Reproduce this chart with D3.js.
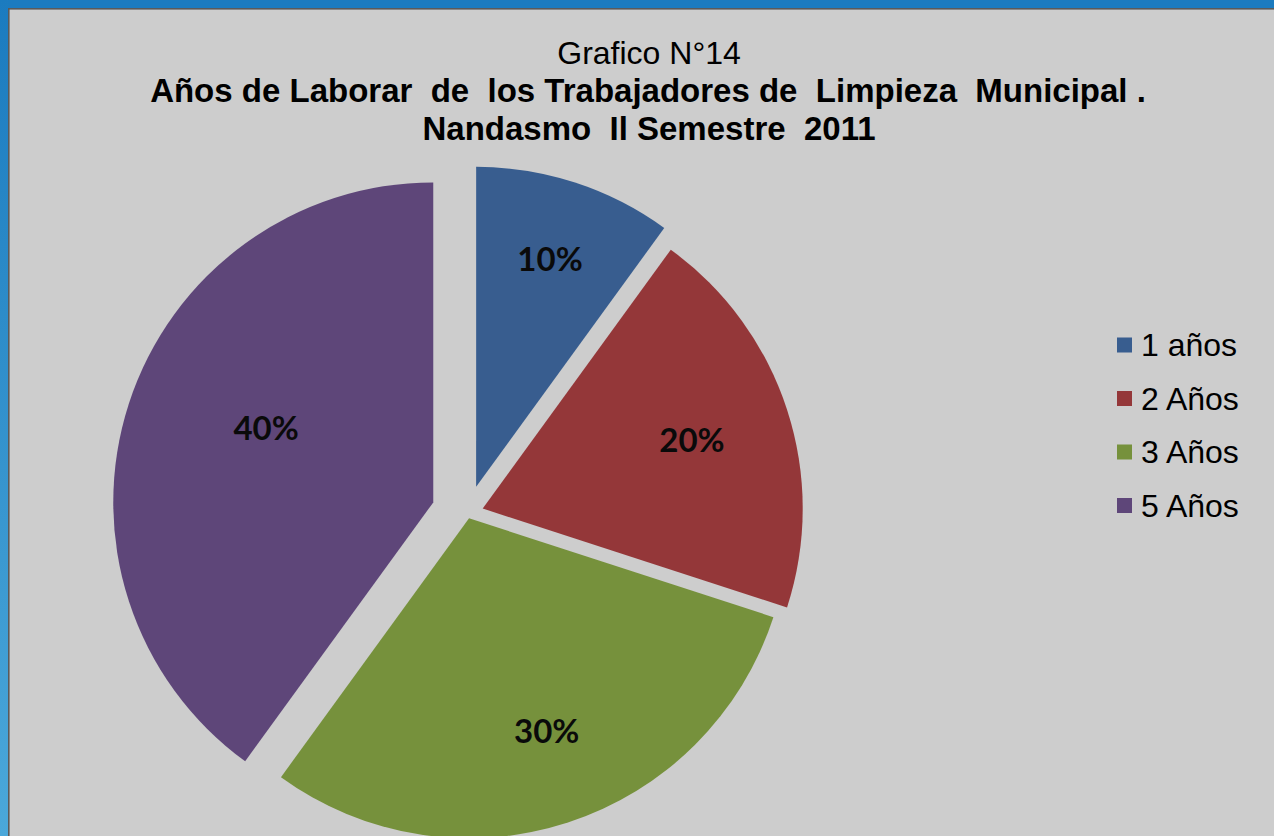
<!DOCTYPE html>
<html>
<head>
<meta charset="utf-8">
<script src="https://cdn.jsdelivr.net/npm/d3@7"></script>
<style>
  body { margin: 0; background: #cdcdcd; }
  svg { display: block; }
  text { white-space: pre; }
</style>
</head>
<body>
<div id="chart-area"></div>
<script>
// data
var categories = ["1 años", "2 Años", "3 Años", "5 Años"];
var percents = [10, 20, 30, 40];
var labels = ["10%", "20%", "30%", "40%"];
var colors = ["#385d8f", "#943739", "#76913c", "#5e4679"];

// per-slice explosion (px), label radius and label angle nudge (deg)
var explode = [28, 16, 5, 36];
var labelRadius = [239, 220, 227, 183];
var labelNudge = [0, 0, -2, 6];

var width = 1274, height = 836;
var cx = 467.5, cy = 513.5, radius = 320;

var svg = d3.select("#chart-area").append("svg")
    .attr("width", width)
    .attr("height", height);

// frame
var defs = svg.append("defs");
var grad = defs.append("linearGradient")
    .attr("id", "sideBlue")
    .attr("x1", 0).attr("y1", 0).attr("x2", 0).attr("y2", 1);
grad.append("stop").attr("offset", "0%").attr("stop-color", "#1b7bbf");
grad.append("stop").attr("offset", "100%").attr("stop-color", "#4ba8da");

svg.append("rect").attr("width", width).attr("height", height).attr("fill", "#cdcdcd");
svg.append("rect").attr("x", 0).attr("y", 0).attr("width", width).attr("height", 8).attr("fill", "#1b7bbf");
svg.append("rect").attr("x", 0).attr("y", 0).attr("width", 8).attr("height", height).attr("fill", "url(#sideBlue)");
svg.append("rect").attr("x", 8).attr("y", 8).attr("width", width - 8).attr("height", 1.6).attr("fill", "#5a5a5a");
svg.append("rect").attr("x", 8).attr("y", 8).attr("width", 1.6).attr("height", height - 8).attr("fill", "#5a5a5a");

// title
var title = svg.append("g").attr("text-anchor", "middle")
    .attr("font-family", "'Liberation Sans', Arial, sans-serif")
    .attr("fill", "#000");
title.append("text").attr("x", 649).attr("y", 64)
    .attr("font-size", "32px").text("Grafico N°14");
title.append("text").attr("x", 648).attr("y", 102)
    .attr("font-size", "33px").attr("font-weight", "bold")
    .text("Años de Laborar  de  los Trabajadores de  Limpieza  Municipal .");
title.append("text").attr("x", 649).attr("y", 140)
    .attr("font-size", "33px").attr("font-weight", "bold")
    .text("Nandasmo  Il Semestre  2011");

// pie
var data = categories.map(function (c, i) {
    return { name: c, value: percents[i], label: labels[i], i: i };
});

var pie = d3.pie()
    .sort(null)
    .value(function (d) { return d.value; });

var arc = d3.arc().innerRadius(0).outerRadius(radius);

var g = svg.append("g").attr("transform", `translate(${cx}, ${cy})`);

var slices = g.selectAll("g.slice")
    .data(pie(data))
    .enter()
    .append("g")
    .attr("class", "slice")
    .attr("transform", function (d) {
        var a = (d.startAngle + d.endAngle) / 2;
        var e = explode[d.data.i];
        return `translate(${e * Math.sin(a)}, ${-e * Math.cos(a)})`;
    });

slices.append("path")
    .attr("d", arc)
    .attr("fill", function (d) { return colors[d.data.i]; });

slices.append("text")
    .attr("transform", function (d) {
        var r = labelRadius[d.data.i];
        var n = labelNudge[d.data.i] * Math.PI / 180;
        var c = d3.arc().innerRadius(r).outerRadius(r)
            .centroid({ startAngle: d.startAngle + n, endAngle: d.endAngle + n });
        return `translate(${c[0]}, ${c[1]})`;
    })
    .attr("text-anchor", "middle")
    .attr("dy", "0.35em")
    .attr("font-family", "Lato, 'Open Sans', sans-serif")
    .attr("font-weight", "bold")
    .attr("font-size", "33px")
    .attr("fill", "#0a0a0a")
    .text(function (d) { return d.data.label; });

// legend
var legend = svg.append("g").attr("transform", "translate(1117, 345)");
var items = legend.selectAll("g")
    .data(categories)
    .enter()
    .append("g")
    .attr("transform", function (d, i) { return `translate(0, ${i * 53.5})`; });

items.append("rect")
    .attr("x", 0).attr("y", -7.5)
    .attr("width", 15).attr("height", 15)
    .attr("fill", function (d, i) { return colors[i]; });

items.append("text")
    .attr("x", 24).attr("y", 11)
    .attr("font-family", "'Liberation Sans', Arial, sans-serif")
    .attr("font-size", "32px")
    .attr("fill", "#000")
    .text(function (d) { return d; });
</script>
</body>
</html>
